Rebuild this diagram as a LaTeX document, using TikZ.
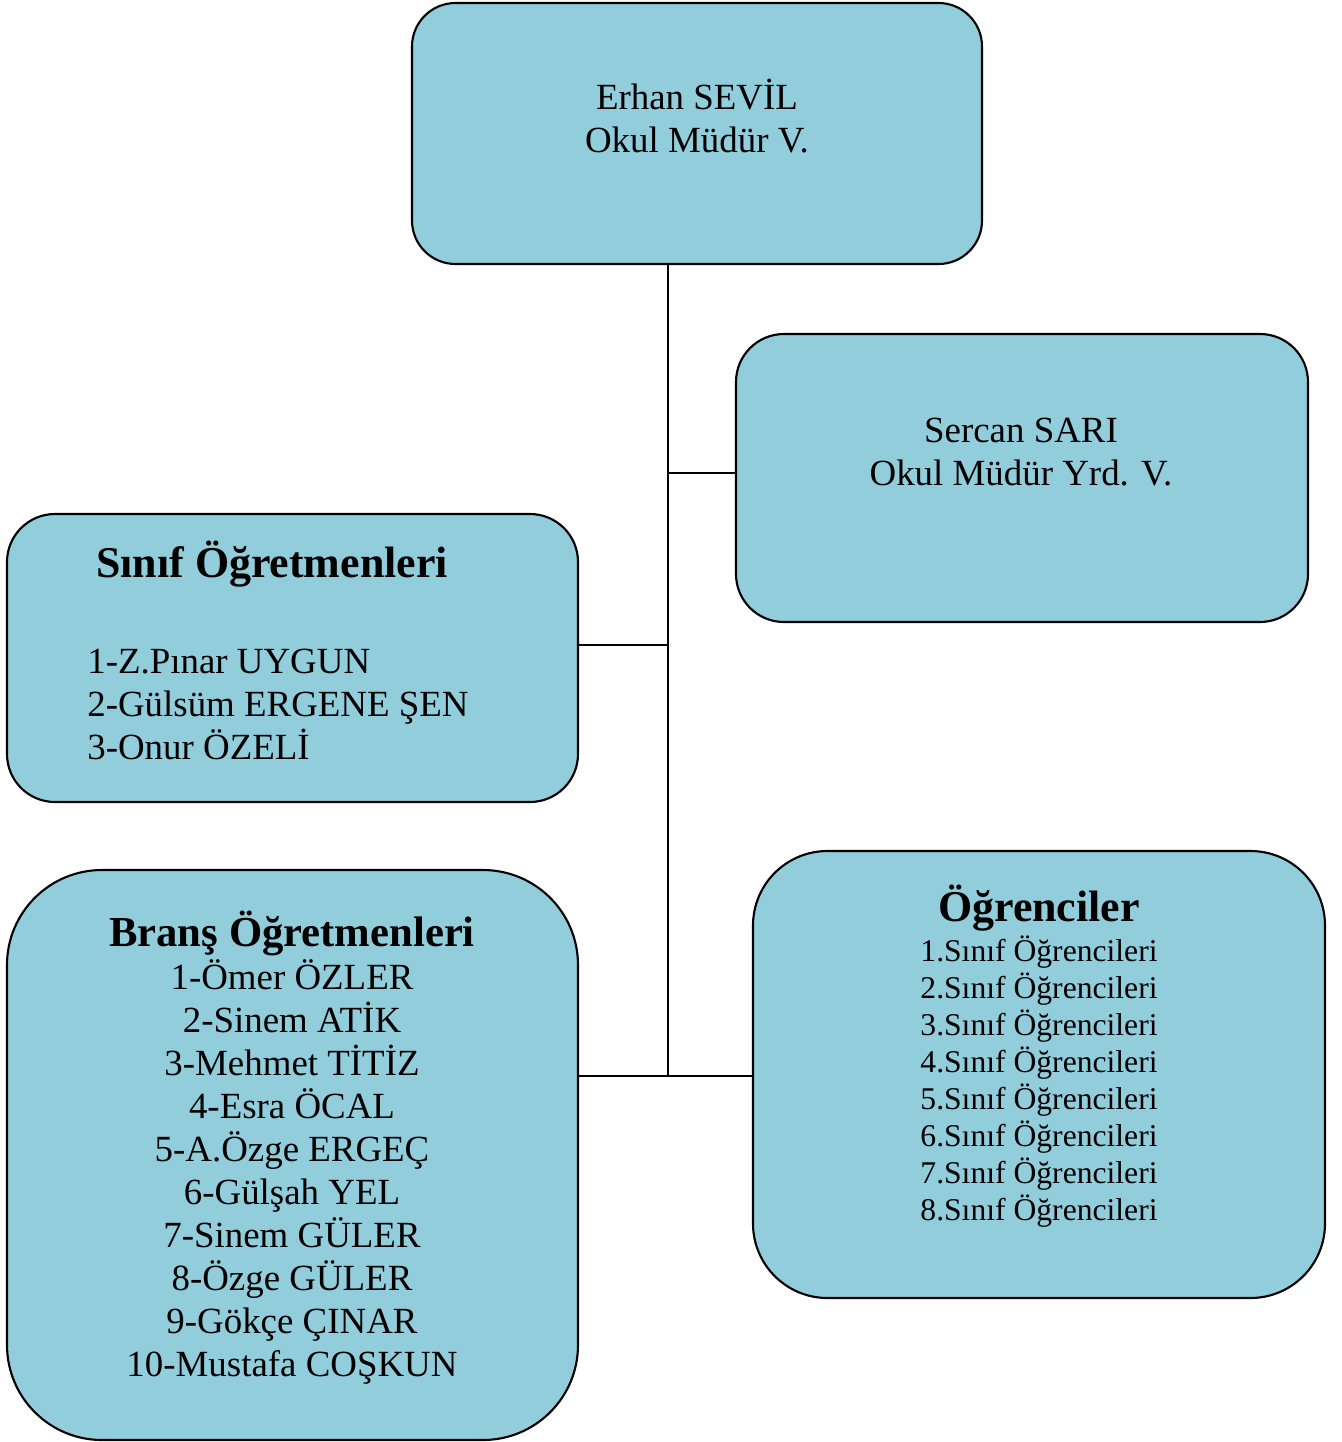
\documentclass[tikz,border=0pt]{standalone}
\usepackage{fontspec}
\setmainfont{Liberation Serif}
\definecolor{kutumavi}{HTML}{92CDDC}
\def\ds{0.02}
\def\nokta#1#2{({(#1)*\ds},{-(#2)*\ds})}
\tikzset{
	kutu/.style={draw,line width=1.2pt,fill=kutumavi,inner sep=0pt},
	hat/.style={line width=1.2pt},
	yazi/.style={anchor=base,inner sep=0pt,font=\fontsize{21}{24}\selectfont},
	baslik/.style={anchor=base,inner sep=0pt,font=\fontsize{24.3}{28}\selectfont\bfseries},
	kucuk/.style={anchor=base,inner sep=0pt,font=\fontsize{18}{21}\selectfont}
}
\begin{document}
\begin{tikzpicture}
\useasboundingbox \nokta{0}{0} rectangle \nokta{1342}{1442};
% kutular
\node[kutu,rounded corners=0.87cm,minimum width={570*\ds*1cm},minimum height={261*\ds*1cm}] (mudur) at \nokta{697}{133.5} {};
\node[kutu,rounded corners=0.96cm,minimum width={572*\ds*1cm},minimum height={288*\ds*1cm}] (yrd) at \nokta{1022}{478} {};
\node[kutu,rounded corners=0.96cm,minimum width={571*\ds*1cm},minimum height={288*\ds*1cm}] (sinif) at \nokta{292.5}{658} {};
\node[kutu,rounded corners=1.9cm,minimum width={571*\ds*1cm},minimum height={570*\ds*1cm}] (brans) at \nokta{292.5}{1155} {};
\node[kutu,rounded corners=1.49cm,minimum width={572*\ds*1cm},minimum height={447*\ds*1cm}] (ogr) at \nokta{1039}{1074.5} {};
% baglantilar
\path ({668*\ds},{-1076*\ds}) coordinate (govde);
\path ({668*\ds},{-473*\ds}) coordinate (k1);
\path ({668*\ds},{-645*\ds}) coordinate (k2);
\draw[hat] (mudur.south -| govde) -- (govde);
\draw[hat] (k1) -- (k1 -| yrd.west);
\draw[hat] (k2) -- (k2 -| sinif.east);
\draw[hat] (brans.east |- govde) -- (ogr.west |- govde);
% yazilar
\node[yazi] (m1) at \nokta{697}{109} {Erhan SEVİL};
\node[yazi] (m2) at \nokta{697}{152} {Okul Müdür V.};
\node[yazi] (y1) at \nokta{1021}{442} {Sercan SARI};
\node[yazi] (y2) at \nokta{1021}{485} {Okul Müdür Yrd. V.};
\node[baslik,font=\fontsize{25}{29}\selectfont\bfseries] (s0) at \nokta{272}{577} {Sınıf Öğretmenleri};
\foreach \ad [count=\i] in {1-Z.Pınar UYGUN,2-Gülsüm ERGENE ŞEN,3-Onur ÖZELİ}
	\node[yazi,anchor=base west] (s\i) at \nokta{87}{673+43*(\i-1)} {\ad};
\node[baslik] (b0) at \nokta{292}{946} {Branş Öğretmenleri};
\foreach \ad [count=\i] in {1-Ömer ÖZLER,2-Sinem ATİK,3-Mehmet TİTİZ,4-Esra ÖCAL,5-A.Özge ERGEÇ,6-Gülşah YEL,7-Sinem GÜLER,8-Özge GÜLER,9-Gökçe ÇINAR,10-Mustafa COŞKUN}
	\node[yazi] (b\i) at \nokta{292}{989+43*(\i-1)} {\ad};
\node[baslik,font=\fontsize{25}{29}\selectfont\bfseries] (o0) at \nokta{1039}{921} {Öğrenciler};
\foreach \i in {1,...,8}
	\node[kucuk] (o\i) at \nokta{1039}{961+37*(\i-1)} {\i.Sınıf Öğrencileri};
\end{tikzpicture}
\end{document}
